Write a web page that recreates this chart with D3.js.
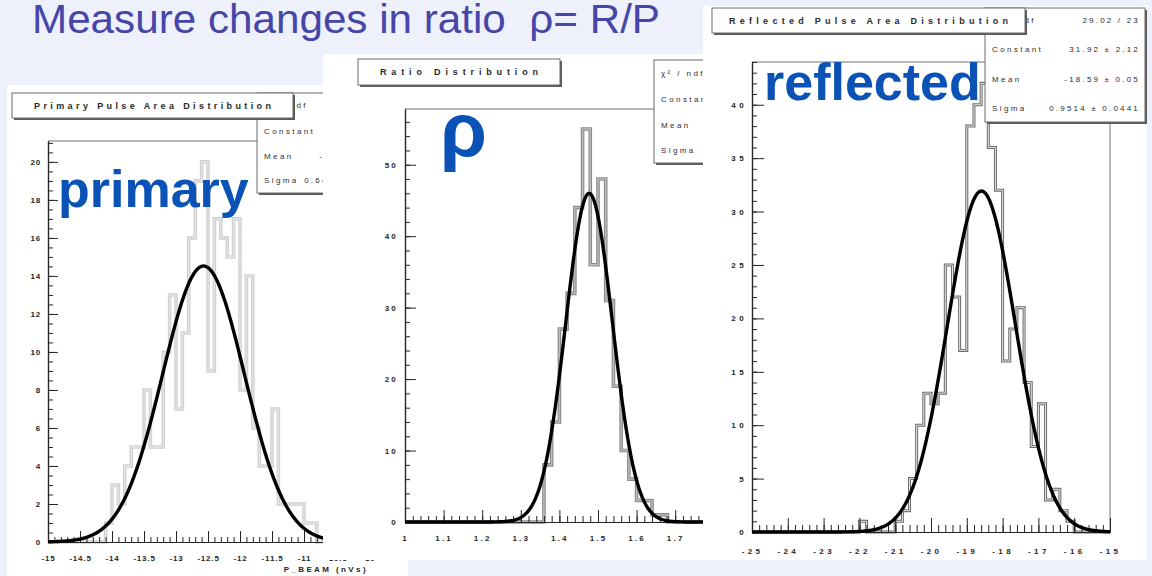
<!DOCTYPE html>
<html>
<head>
<meta charset="utf-8">
<script src="https://cdn.jsdelivr.net/npm/d3@7"></script>
<style>
  html, body { margin: 0; padding: 0; background: #eef0fb; }
  svg { display: block; font-family: "Liberation Sans", Arial, sans-serif; }
</style>
</head>
<body>
<svg id="chart" width="1152" height="576"></svg>
<script>
// ---- slide text ----
const slideTitle = 'Measure changes in ratio  \u03c1= R/P';
const bigLabels = ['primary', '\u03c1', 'reflected'];

// ---- primary pulse area: 50 bins over [-15, -10] ----
const primaryRange = [-15, -10];
const primaryCounts = [
  0, 0, 0, 0, 0, 0, 0, 0, 0, 1,
  3, 2, 4, 5, 5, 8, 5, 5, 10, 13,
  7, 11, 16, 19, 20, 9, 17, 16, 15, 17,
  8, 14, 6, 4, 4, 7, 2, 2, 2, 2,
  1, 1, 0, 0, 0, 0, 0, 0, 0, 0
];
const primaryFit = [14.52, -12.57, 0.6405]; // constant, mean, sigma
const primaryStatLabels = ['\u03c7\u00b2 / ndf', 'Constant', 'Mean', 'Sigma'];
const primaryStatValues = ['31.44 / 27', '14.52 \u00b1 1.32', '-12.57 \u00b1 0.05', '0.6405 \u00b1 0.0391'];
const primaryXTicks = [-15, -14.5, -14, -13.5, -13, -12.5, -12, -11.5, -11, -10.5, -10];
const primaryYTicks = [0, 2, 4, 6, 8, 10, 12, 14, 16, 18, 20];

// ---- ratio R/P: 50 bins over [1, 2] ----
const ratioRange = [1, 2];
const ratioCounts = [
  0, 0, 0, 0, 0, 0, 0, 0, 0, 0,
  0, 0, 0, 0, 0, 0, 0, 0, 8, 14,
  27, 32, 44, 55, 36, 48, 31, 19, 10, 6,
  3, 3, 1, 1, 0, 0, 0, 0, 0, 0,
  0, 0, 0, 0, 0, 0, 0, 0, 0, 0
];
const ratioFit = [46.0, 1.477, 0.0605];
// the value column of this box is hidden behind the next panel in the slide
const ratioStatLabels = ['\u03c7\u00b2 / ndf', 'Constant', 'Mean', 'Sigma'];
const ratioStatValues = [];
const ratioXTicks = [1, 1.1, 1.2, 1.3, 1.4, 1.5, 1.6, 1.7, 1.8];
const ratioYTicks = [0, 10, 20, 30, 40, 50];

// ---- reflected pulse area: 50 bins over [-25, -15] ----
const reflectedRange = [-25, -15];
const reflectedCounts = [
  0, 0, 0, 0, 0, 0, 0, 0, 0, 0,
  0, 0, 0, 0, 0, 1, 0, 0, 0, 0,
  1, 2, 5, 10, 13, 12, 13, 25, 22, 17,
  38, 40, 42, 36, 32, 16, 19, 21, 14, 8,
  12, 3, 4, 2, 1, 0, 0, 0, 0, 0
];
const reflectedFit = [31.92, -18.59, 0.9514];
const reflectedStatLabels = ['\u03c7\u00b2 / ndf', 'Constant', 'Mean', 'Sigma'];
const reflectedStatValues = ['29.02 / 23', '31.92 \u00b1 2.12', '-18.59 \u00b1 0.05', '0.9514 \u00b1 0.0441'];
const reflectedXTicks = [-25, -24, -23, -22, -21, -20, -19, -18, -17, -16, -15];
const reflectedYTicks = [0, 5, 10, 15, 20, 25, 30, 35, 40];

const INK = '#262626';
const BLUE = '#0a52b6';

const svg = d3.select('#chart');

svg.append('rect').attr('width', 1152).attr('height', 576).attr('fill', '#eef0fb');

svg.append('text')
  .attr('x', 32).attr('y', 33)
  .attr('font-size', 41)
  .attr('fill', '#4646a8')
  .attr('textLength', 628).attr('lengthAdjust', 'spacingAndGlyphs')
  .style('white-space', 'pre')
  .text(slideTitle);

function paveBox(g, b) {
  g.append('rect')
    .attr('x', b[0] + 2).attr('y', b[1] + 2)
    .attr('width', b[2] - b[0]).attr('height', b[3] - b[1])
    .attr('fill', '#5a5a5a');
  g.append('rect')
    .attr('x', b[0]).attr('y', b[1])
    .attr('width', b[2] - b[0]).attr('height', b[3] - b[1])
    .attr('fill', '#fff').attr('stroke', '#6a6a6a').attr('stroke-width', 1);
}

function drawPanel(p) {
  const g = svg.append('g');
  g.append('rect')
    .attr('x', p.box[0]).attr('y', p.box[1])
    .attr('width', p.box[2] - p.box[0]).attr('height', p.box[3] - p.box[1])
    .attr('fill', '#fff');

  const x = d3.scaleLinear().domain(p.range).range([p.frame.left, p.frame.right]);
  const y = d3.scaleLinear().domain([0, p.ymax]).range([p.frame.bottom, p.frame.top]);

  // frame top and right edges
  g.append('path')
    .attr('d', 'M' + p.frame.left + ',' + p.frame.top + 'H' + p.frame.right + 'V' + p.frame.bottom)
    .attr('fill', 'none').attr('stroke', '#707070').attr('stroke-width', 1);

  // step histogram
  const w = (p.range[1] - p.range[0]) / p.counts.length;
  const pts = [[p.range[0], 0]];
  p.counts.forEach(function(c, i) {
    const x0 = p.range[0] + i * w;
    pts.push([x0, c], [x0 + w, c]);
  });
  pts.push([p.range[1], 0]);
  const step = d3.line().x(d => x(d[0])).y(d => y(d[1]));
  p.histStyle.forEach(function(s) {
    g.append('path').datum(pts)
      .attr('d', step)
      .attr('fill', 'none')
      .attr('stroke', s[0]).attr('stroke-width', s[1])
      .attr('stroke-linejoin', 'miter');
  });

  // axes (ROOT style: ticks pointing into the frame)
  const fmt = d => String(d);
  const styleAxis = function(a, ls) {
    a.select('.domain').attr('stroke', INK).attr('stroke-width', 1.2);
    a.selectAll('.tick line').attr('stroke', INK).attr('stroke-width', 1);
    a.selectAll('text')
      .attr('fill', INK).attr('font-size', 8).attr('font-weight', 'bold')
      .attr('font-family', '"Liberation Sans", Arial, sans-serif')
      .style('letter-spacing', ls + 'px');
  };

  const gx = g.append('g').attr('transform', 'translate(0,' + p.frame.bottom + ')')
    .call(d3.axisBottom(x).tickValues(p.xTicks).tickFormat(fmt)
      .tickSizeInner(-p.xMajor).tickSizeOuter(0).tickPadding(p.xPad));
  styleAxis(gx, p.ls);
  const gxm = g.append('g').attr('transform', 'translate(0,' + p.frame.bottom + ')')
    .call(d3.axisBottom(x).tickValues(p.xMinor).tickFormat('')
      .tickSizeInner(-p.xMinorLen).tickSizeOuter(0));
  styleAxis(gxm, 0);

  const gy = g.append('g').attr('transform', 'translate(' + p.frame.left + ',0)')
    .call(d3.axisLeft(y).tickValues(p.yTicks).tickFormat(fmt)
      .tickSizeInner(-p.yMajor).tickSizeOuter(0).tickPadding(p.yPad));
  styleAxis(gy, p.ls);
  const gym = g.append('g').attr('transform', 'translate(' + p.frame.left + ',0)')
    .call(d3.axisLeft(y).tickValues(p.yMinor).tickFormat('')
      .tickSizeInner(-p.yMinorLen).tickSizeOuter(0));
  styleAxis(gym, 0);

  if (p.xTitle) {
    g.append('text')
      .attr('x', p.frame.right).attr('y', p.xTitleY)
      .attr('text-anchor', 'end')
      .attr('font-size', 8).attr('font-weight', 'bold').attr('fill', INK)
      .style('letter-spacing', '2.4px')
      .text(p.xTitle);
  }

  // gaussian fit drawn from the fitted parameters
  const fit = p.fit;
  const xs = d3.range(0, 401).map(k => p.range[0] + (p.range[1] - p.range[0]) * k / 400);
  g.append('path').datum(xs)
    .attr('d', d3.line()
      .x(v => x(v))
      .y(v => y(fit[0] * Math.exp(-0.5 * Math.pow((v - fit[1]) / fit[2], 2)))))
    .attr('fill', 'none').attr('stroke', '#000').attr('stroke-width', 3.4)
    .attr('stroke-linejoin', 'round');

  // stat box
  paveBox(g, p.stat);
  p.statLabels.forEach(function(lab, i) {
    g.append('text')
      .attr('x', p.stat[0] + 7).attr('y', p.statRows[i]).attr('dy', '0.35em')
      .attr('font-size', 8).attr('fill', '#3a2c2c')
      .style('letter-spacing', '2.4px')
      .text(lab);
    if (p.statValues[i] === undefined) return;
    g.append('text')
      .attr('x', p.stat[2] - 5).attr('y', p.statRows[i]).attr('dy', '0.35em')
      .attr('text-anchor', 'end')
      .attr('font-size', 8).attr('fill', '#2a2a2a')
      .style('letter-spacing', '2.2px')
      .text(p.statValues[i]);
  });

  // title box
  paveBox(g, p.title);
  g.append('text')
    .attr('x', (p.title[0] + p.title[2]) / 2 - p.titleWidth / 2)
    .attr('y', (p.title[1] + p.title[3]) / 2).attr('dy', '0.35em')
    .attr('font-size', 9).attr('font-weight', 'bold').attr('fill', '#2a2a2a')
    .attr('textLength', p.titleWidth).attr('lengthAdjust', 'spacing')
    .text(p.titleText);

  return g;
}

function minors(lo, hi, stepv) {
  return d3.range(Math.round((hi - lo) / stepv) + 1).map(k => +(lo + k * stepv).toFixed(4));
}

drawPanel({
  box: [7, 85, 408, 576],
  frame: { left: 48, right: 368, top: 141, bottom: 542 },
  range: primaryRange, ymax: 21.1,
  counts: primaryCounts, fit: primaryFit,
  histStyle: [['#cfcfcf', 3.6], ['#e4e4e4', 1.4]],
  xTicks: primaryXTicks, xMinor: minors(-15, -10, 0.1), xMajor: 11, xMinorLen: 5, xPad: 13,
  yTicks: primaryYTicks, yMinor: minors(0, 21, 0.5), yMajor: 10, yMinorLen: 5, yPad: 7,
  ls: 0.8,
  xTitle: 'P_BEAM (nVs)', xTitleY: 572,
  stat: [257, 93, 400, 193], statRows: [105, 131, 156, 180],
  statLabels: primaryStatLabels, statValues: primaryStatValues,
  title: [12, 93, 293, 118], titleWidth: 237, titleText: 'Primary Pulse Area Distribution'
});

drawPanel({
  box: [323, 54, 703, 560],
  frame: { left: 405, right: 791, top: 109, bottom: 522 },
  range: ratioRange, ymax: 57.8,
  counts: ratioCounts, fit: ratioFit,
  histStyle: [['#8a8a8a', 3.6], ['#bdbdbd', 1.4]],
  xTicks: ratioXTicks, xMinor: minors(1, 2, 0.02), xMajor: 12, xMinorLen: 6, xPad: 13,
  yTicks: ratioYTicks, yMinor: minors(0, 56, 2), yMajor: 11, yMinorLen: 5, yPad: 7,
  ls: 2.2,
  stat: [654, 60, 800, 163], statRows: [73, 99, 125, 150],
  statLabels: ratioStatLabels, statValues: ratioStatValues,
  title: [358, 59, 560, 85], titleWidth: 158, titleText: 'Ratio Distribution'
});

drawPanel({
  box: [703, 6, 1147, 560],
  frame: { left: 752, right: 1110, top: 62, bottom: 532 },
  range: reflectedRange, ymax: 44,
  counts: reflectedCounts, fit: reflectedFit,
  histStyle: [['#6a6a6a', 3], ['#e8e8e8', 1]],
  xTicks: reflectedXTicks, xMinor: minors(-25, -15, 0.2), xMajor: 14, xMinorLen: 7, xPad: 16,
  yTicks: reflectedYTicks, yMinor: minors(0, 44, 1), yMajor: 12, yMinorLen: 5, yPad: 5,
  ls: 3.4,
  stat: [985, 8, 1145, 122], statRows: [20, 49, 79, 108],
  statLabels: reflectedStatLabels, statValues: reflectedStatValues,
  title: [712, 8, 1025, 33], titleWidth: 279, titleText: 'Reflected Pulse Area Distribution'
});

// big blue slide labels
const labelPos = [[58, 207, 52], [440, 156, 76], [764, 100, 52]];
bigLabels.forEach(function(t, i) {
  svg.append('text')
    .attr('x', labelPos[i][0]).attr('y', labelPos[i][1])
    .attr('font-size', labelPos[i][2]).attr('font-weight', 'bold')
    .attr('fill', BLUE)
    .text(t);
});
</script>
</body>
</html>
